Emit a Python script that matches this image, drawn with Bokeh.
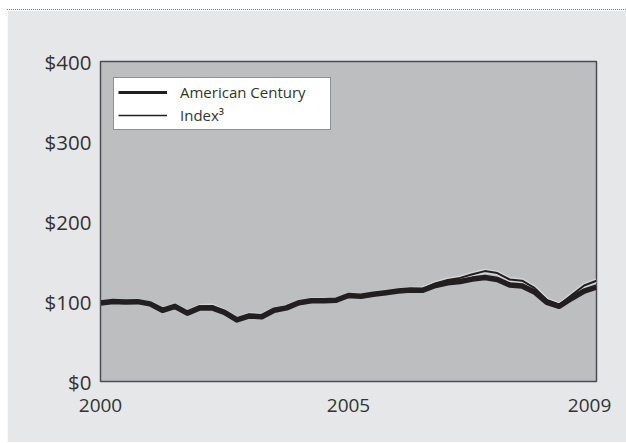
import math
from bokeh.plotting import figure
from bokeh.models import Range1d, FixedTicker, PrintfTickFormatter, Legend, LegendItem
from bokeh.embed import file_html
from bokeh.resources import INLINE

# quarterly dates (fractional years)
years = [2000 + 0.25 * i for i in range(41)]
american_century = [98, 100, 99.5, 99.8, 97, 89, 94, 85.5, 92, 92, 86.5, 77, 82, 81, 89, 92,
                    98.5, 101, 101, 101.5, 107.5, 106.5, 109, 111, 113, 114.5, 114, 120,
                    123.5, 125, 128, 130, 127.5, 120.5, 119.5, 112, 99, 94, 104, 113, 118]
index3 = [98, 100.5, 100, 100.5, 97.5, 90, 94.5, 86, 94, 94.5, 88, 78, 83.5, 82.5, 90, 93,
          99.5, 102, 102, 102, 108, 107.5, 110, 112, 114, 115.5, 116, 122.5,
          127, 129.5, 134, 138, 135.5, 127.5, 126, 117, 102, 96, 108, 120, 126]
x_tick_pos = [2000, 2005, 2009.86]
x_tick_labels = ["2000", "2005", "2009"]
y_ticks = [0, 100, 200, 300, 400]

FONT = "Open Sans"
INK = "#231f20"

p = figure(width=619, height=433, output_backend="svg", toolbar_location=None,
           x_range=Range1d(2000, 2010), y_range=Range1d(0, 400),
           min_border_left=93, min_border_right=30, min_border_top=51, min_border_bottom=62,
           styles={"margin-left": "7px", "margin-top": "9px",
                   "border-top": "1px dotted #808080"})
p.border_fill_color = "#e6e7e8"
p.background_fill_color = "#bcbec0"
p.outline_line_color = "#4d4d4f"
p.outline_line_width = 1.5
p.grid.visible = False

for ax in (p.xaxis[0], p.yaxis[0]):
    ax.axis_line_color = None
    ax.major_tick_line_color = None
    ax.minor_tick_line_color = None
    ax.major_label_text_font = FONT
    ax.major_label_text_color = "#333333"

p.xaxis.major_label_text_font_size = "19px"
p.yaxis.major_label_text_font_size = "20.5px"
p.xaxis.ticker = FixedTicker(ticks=x_tick_pos)
p.xaxis.major_label_overrides = {t: l for t, l in zip(x_tick_pos, x_tick_labels)}
p.xaxis.major_label_standoff = 11
p.yaxis.ticker = FixedTicker(ticks=y_ticks)
p.yaxis.formatter = PrintfTickFormatter(format="$%d")
p.yaxis.major_label_standoff = 3

p.line(years, index3, line_color="#d4d5d7", line_width=4.8, line_join="round")
p.line(years, index3, line_color=INK, line_width=2.0, line_join="round")
p.line(years, american_century, line_color=INK, line_width=5.5, line_join="round")

# legend swatches (same series, not drawn: values masked)
blank = [math.nan] * len(years)
leg_ac = p.line(years, blank, line_color=INK, line_width=3.2)
leg_ix = p.line(years, blank, line_color=INK, line_width=1.3)

legend = Legend(items=[LegendItem(label="American Century", renderers=[leg_ac]),
                       LegendItem(label="Index³", renderers=[leg_ix])],
                location=(13, 251))
legend.glyph_width = 49
legend.glyph_height = 20
legend.spacing = 3
legend.padding = 4
legend.margin = 0
legend.label_standoff = 13
legend.label_width = 146
legend.label_text_font = FONT
legend.label_text_font_size = "15px"
legend.label_text_color = "#333333"
legend.border_line_color = INK
legend.border_line_width = 1
legend.background_fill_color = "white"
legend.background_fill_alpha = 1
p.add_layout(legend)

open("out.html", "w").write(file_html(p, INLINE))
